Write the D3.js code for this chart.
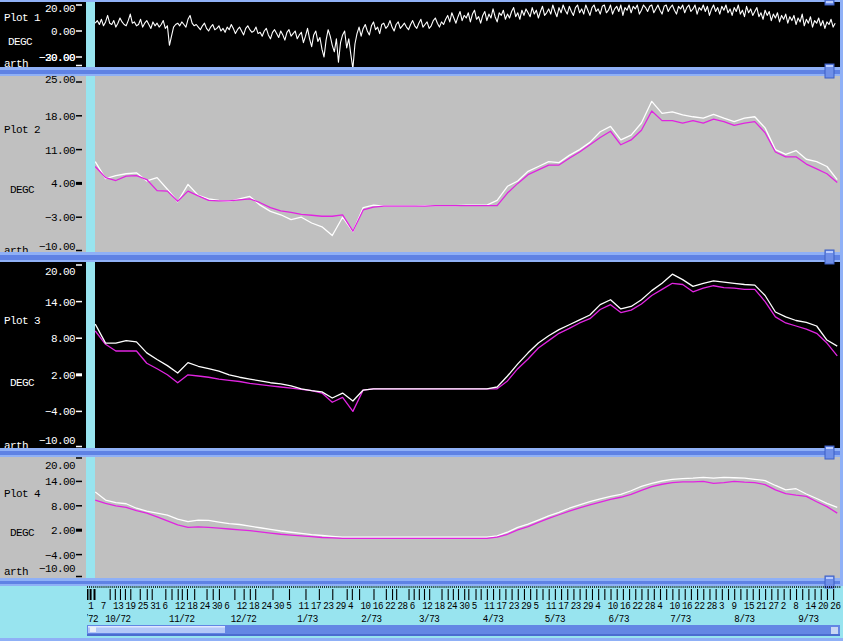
<!DOCTYPE html>
<html><head><meta charset="utf-8">
<script src="https://cdn.jsdelivr.net/npm/d3@7/dist/d3.min.js"></script>
<style>
html,body{margin:0;padding:0;background:#98e4ef;overflow:hidden}
svg{display:block}
text{font-family:"Liberation Mono","DejaVu Sans Mono",monospace;font-size:11px;letter-spacing:-0.6px}
</style></head><body>
<svg id="chart" width="843" height="641"></svg>
<script>
// ---------------- DATA ----------------
// smoothed series: one value every 5 days starting 5 Oct 1972 (day 4)
const gridStartDay = 4, gridStepDays = 5;
const p2White = [8.5,5.0,5.6,6.0,6.2,4.5,5.2,2.8,0.2,3.8,
 1.5,0.8,0.5,0.3,0.8,1.3,-0.5,-1.8,-2.5,-3.5,
 -3.0,-4.2,-5.0,-6.8,-3.0,-6.0,-1.0,-0.5,-0.7,-0.7,
 -0.7,-0.7,-0.6,-0.6,-0.6,-0.6,-0.5,-0.5,-0.5,0.5,
 3.4,4.5,6.5,7.5,8.5,8.3,9.8,11.0,12.5,14.7,
 15.8,13.0,14.0,16.5,21.0,18.5,18.8,18.2,17.8,17.5,
 18.3,17.5,16.8,17.5,17.8,15.5,11.0,10.0,10.8,9.0,
 8.5,7.5,4.8];
const p2Magenta = [7.5,5.2,4.6,5.5,5.6,4.8,2.5,2.4,0.3,2.4,
 1.4,0.5,0.4,0.4,0.6,0.8,0.0,-1.0,-1.7,-2.0,
 -2.4,-2.6,-2.8,-2.8,-2.5,-5.9,-1.5,-0.9,-0.7,-0.7,
 -0.7,-0.7,-0.7,-0.6,-0.6,-0.6,-0.6,-0.6,-0.6,-0.6,
 2.0,4.0,5.8,6.8,7.8,7.8,9.2,10.5,12.0,13.5,
 14.8,12.0,13.0,15.0,19.0,17.0,17.0,16.5,17.0,16.5,
 17.3,16.8,16.0,16.5,16.8,14.5,10.5,9.5,9.5,8.0,
 7.0,6.0,4.2];
const p3White = [10.3,7.2,7.2,7.6,7.4,5.6,4.5,3.5,2.3,4.0,
 3.4,3.0,2.6,2.0,1.6,1.3,1.0,0.7,0.5,0.2,
 -0.3,-0.6,-0.8,-1.8,-1.0,-2.3,-0.5,-0.3,-0.3,-0.3,
 -0.3,-0.3,-0.3,-0.3,-0.3,-0.3,-0.3,-0.3,-0.3,0.0,
 1.8,3.8,5.6,7.2,8.4,9.4,10.2,11.0,11.8,13.5,
 14.3,12.8,13.2,14.3,15.8,17.0,18.5,17.6,16.5,17.0,
 17.4,17.2,17.0,16.8,16.7,15.0,12.3,11.5,10.9,10.6,
 10.0,7.7,6.7];
const p3Magenta = [9.2,7.0,5.9,5.9,5.9,3.9,3.0,2.0,0.7,2.0,
 1.8,1.6,1.3,1.1,0.9,0.6,0.4,0.2,0.0,-0.2,
 -0.4,-0.6,-1.0,-2.5,-1.7,-4.0,-0.5,-0.3,-0.3,-0.3,
 -0.3,-0.3,-0.3,-0.3,-0.3,-0.3,-0.3,-0.3,-0.3,-0.3,
 1.0,3.0,4.6,6.4,7.6,8.8,9.6,10.5,11.2,12.7,
 13.5,12.2,12.6,13.6,15.0,16.0,17.0,16.8,15.6,16.2,
 16.6,16.3,16.2,16.0,16.0,14.0,11.5,10.5,10.0,9.5,
 8.8,7.2,5.1];
const p4White = [11.4,9.4,8.8,8.5,7.4,6.7,6.2,5.7,4.7,4.1,
 4.5,4.4,4.0,3.6,3.4,3.0,2.6,2.2,1.8,1.5,
 1.2,0.9,0.7,0.5,0.3,0.3,0.3,0.3,0.3,0.3,
 0.3,0.3,0.3,0.3,0.3,0.3,0.3,0.3,0.3,0.6,
 1.5,2.7,3.5,4.5,5.5,6.4,7.4,8.2,9.0,9.7,
 10.3,10.8,11.7,12.8,13.5,14.1,14.5,14.7,14.8,15.0,
 14.8,15.0,14.9,14.8,14.5,14.2,13.0,11.9,12.2,10.9,
 9.8,8.6,7.6];
const p4Magenta = [9.4,8.6,8.0,7.6,6.8,6.2,5.3,4.3,3.3,2.7,
 2.8,2.7,2.5,2.3,2.1,1.9,1.6,1.3,1.0,0.8,
 0.6,0.4,0.2,0.1,0.0,0.0,0.0,0.0,0.0,0.0,
 0.0,0.0,0.0,0.0,0.0,0.0,0.0,0.0,0.0,0.3,
 1.0,2.1,2.9,3.9,4.9,5.8,6.7,7.5,8.2,8.9,
 9.6,10.1,10.8,11.8,12.7,13.3,13.7,13.9,13.9,14.0,
 13.5,13.7,14.0,13.8,13.7,13.2,11.9,11.0,10.6,10.3,
 9.0,7.8,6.2];
// raw series (plot 1): one value per day starting day 4
const p1StartDay = 4, p1StepDays = 1;
const p1Raw = [
 6,8,5,9,4,7,12,6,5,8,     3,6,10,7,5,4,8,13,6,7,
 4,5,9,3,6,8,5,2,7,4,      6,3,5,8,2,4,-11,-4,3,5,
 6,4,7,5,3,9,12,6,4,5,     3,1,4,6,2,0,3,5,1,2,
 4,0,2,-1,3,1,5,2,-2,1,    3,0,-3,2,4,1,-1,0,3,-2,
 -1,-4,0,2,-3,-6,-1,1,-2,-5, 0,-3,-7,-1,1,-4,-2,0,-6,-3,
 -1,-9,-4,2,-6,-12,-3,0,-8,-5, -14,-20,-7,1,-4,-11,-16,-6,-24,-9,
 -3,0,-13,-6,-18,-29,-10,-2,3,-4, 2,5,0,-3,4,7,1,3,-2,5,
 6,2,4,8,3,0,5,7,2,4,      6,3,1,5,8,4,2,6,9,3,
 5,7,2,4,8,10,6,3,7,5,     9,12,7,14,10,6,11,15,8,12,
 10,14,7,13,16,9,11,6,12,15, 8,13,10,17,11,7,14,12,16,9,
 13,10,15,18,11,14,9,16,12,17, 14,11,18,13,16,10,15,19,12,14,
 17,13,20,15,11,18,14,20,16,13, 19,15,12,18,20,14,17,13,20,16,
 12,18,20,15,17,13,19,20,14,16, 20,13,17,19,15,20,12,18,16,20,
 14,19,17,20,13,16,20,18,15,19, 20,14,17,20,16,13,19,20,15,18,
 20,16,13,19,17,20,14,18,20,15, 17,20,13,18,16,20,15,19,12,17,
 20,15,18,13,19,16,20,14,17,12, 18,15,20,13,16,11,19,14,17,12,
 15,18,11,14,9,16,12,15,8,13,  10,14,7,12,9,13,6,11,8,12,
 5,10,7,13,4,9,6,11,3,8,       6,10,4,8,2,7,5,9,3,6];
// y tick labels
const yTicks1 = [20, 0, -20, -30];
const yTicks2 = [25, 18, 11, 4, -3, -10];
const yTicks3 = [20, 14, 8, 2, -4, -10];
const yTicks4 = [20, 14, 8, 2, -4, -10];
const panelNames = ["Plot 1", "Plot 2", "Plot 3", "Plot 4"];
const unitLabel = "DEGC";
const sourceLabel = "arth";
// x axis: day labels every 6 days from 1 Oct 1972, month labels, sample marks
const dayLabelStep = 6, dayLabelCount = 61;
const monthLabels = ["9/72","10/72","11/72","12/72","1/73","2/73","3/73","4/73","5/73","6/73","7/73","8/73","9/73"];
const sampleDays = [0,1.5,3.4,11,13.5,16,18.4,21,25.6,29,31.4,38,41,44,46,48.5,52,58,61,64,71.5,76,79,81.6,90,98,106,112.5,119,126,128.5,132,139,145,148,150,156,158.5,161,163.5,166,172,175,177.5,180,183,185,188.5,191,194,197,
 200,203,206,209,212,215,218,221,224,227,230,233,236,239,242,245,248,251,254,257,260,263,266,269,272,275,278,281,284,287,290,293,296,299,302,305,308,311,314,317,320,323,326,329,332,335,338,341,344,347,350,353,356,359,362];

// ---------------- LAYOUT ----------------
const W = 843, H = 641;
const CYAN = "#98e4ef", GRAY = "#c0c0c0", BL = "#8fb0f6", BD = "#5f82e4", MAG = "#e024e0";
const DAY0 = Date.UTC(1972, 9, 1);
const dayDate = d => new Date(DAY0 + d * 86400000);
const x = d3.scaleUtc().domain([dayDate(0), dayDate(360)]).range([87, 829]);
const plotL = 95, plotR = 840;

const svg = d3.select("#chart");
svg.append("rect").attr("width", W).attr("height", H).attr("fill", CYAN);
const defs = svg.append("defs");

const grid = arr => arr.map((v, i) => ({day: gridStartDay + i * gridStepDays, v}));

const panels = [
 {top:2, bottom:67, bg:"#000", fg:"#fff", domain:[-30,20], range:[70,5], ticks:yTicks1, thick:null,
  firstLY:9, lastLY:58, ly:{plot:18, unit:42, src:64}, unitX:8,
  series:[{data:p1Raw.map((v,i)=>({day:p1StartDay+i*p1StepDays, v})), color:"#fff"}]},
 {top:76, bottom:252, bg:GRAY, fg:"#000", domain:[-10,25], range:[251,82], ticks:yTicks2, thick:4,
  firstLY:80, lastLY:247, ly:{plot:130, unit:190, src:251}, unitX:10,
  series:[{data:grid(p2White), color:"#fff"},{data:grid(p2Magenta), color:MAG}]},
 {top:262, bottom:448, bg:"#000", fg:"#fff", domain:[-10,20], range:[448,265], ticks:yTicks3, thick:2,
  firstLY:272, lastLY:441, ly:{plot:321, unit:383, src:446}, unitX:10,
  series:[{data:grid(p3Magenta), color:MAG},{data:grid(p3White), color:"#fff"}]},
 {top:457, bottom:578, bg:GRAY, fg:"#000", domain:[-10,20], range:[579,457], ticks:yTicks4, thick:2,
  firstLY:466, lastLY:569, ly:{plot:494, unit:533, src:572}, unitX:10,
  series:[{data:grid(p4White), color:"#fff"},{data:grid(p4Magenta), color:MAG}]}
];

panels.forEach((p, k) => {
  const g = svg.append("g");
  g.append("rect").attr("x",0).attr("y",p.top).attr("width",W).attr("height",p.bottom-p.top).attr("fill",p.bg);
  g.append("rect").attr("x",86).attr("y",p.top).attr("width",9).attr("height",p.bottom-p.top).attr("fill",CYAN);
  const cid = "clipL"+k, cid2 = "clipP"+k;
  defs.append("clipPath").attr("id",cid).append("rect").attr("x",0).attr("y",p.top).attr("width",86).attr("height",p.bottom-p.top);
  defs.append("clipPath").attr("id",cid2).append("rect").attr("x",plotL).attr("y",p.top).attr("width",plotR-plotL).attr("height",p.bottom-p.top);
  const y = d3.scaleLinear().domain(p.domain).range(p.range);
  const lab = g.append("g").attr("clip-path",`url(#${cid})`).attr("fill",p.fg);
  lab.append("text").attr("x",4).attr("y",p.ly.plot).attr("dominant-baseline","central").text(panelNames[k]);
  lab.append("text").attr("x",p.unitX).attr("y",p.ly.unit).attr("dominant-baseline","central").text(unitLabel);
  lab.append("text").attr("x",4).attr("y",p.ly.src).attr("dominant-baseline","central").text(sourceLabel);
  const n = p.ticks.length;
  p.ticks.forEach((v, i) => {
    let ly = i === 0 ? p.firstLY : (i === n-1 ? p.lastLY : y(v) + 1);
    lab.append("text").attr("x",75).attr("y",ly).attr("text-anchor","end").attr("dominant-baseline","central").text(d3.format(".2f")(v));
    let ty = Math.max(p.top+1, Math.min(p.bottom-1.5, y(v)));
    const th = (v === p.thick) ? 3 : 1.5;
    lab.append("rect").attr("x",76).attr("y",ty - th/2).attr("width",6).attr("height",th).attr("fill",p.fg);
  });
  const line = d3.line().x(d => x(dayDate(d.day))).y(d => y(d.v));
  const pg = g.append("g").attr("clip-path",`url(#${cid2})`);
  p.series.forEach(s => {
    pg.append("path").attr("d", line(s.data)).attr("fill","none").attr("stroke", s.color)
      .attr("stroke-width", k === 0 ? 1.1 : 1.3).attr("stroke-linejoin","round");
  });
});

// separators / frame
function band(y0, y1) {
  svg.append("rect").attr("x",0).attr("y",y0).attr("width",W).attr("height",y1-y0).attr("fill",BL);
  if (y1 - y0 > 6) svg.append("rect").attr("x",0).attr("y",y0+3).attr("width",W).attr("height",y1-y0-5).attr("fill",BD);
}
svg.append("rect").attr("x",0).attr("y",0).attr("width",W).attr("height",2).attr("fill",BL);
band(67, 76); band(252, 262); band(448, 457); band(578, 586);
svg.append("rect").attr("x",0).attr("y",638).attr("width",W).attr("height",3).attr("fill",BL);
svg.append("rect").attr("x",840).attr("y",0).attr("width",3).attr("height",586).attr("fill",BL);
// handles
[[0,5],[64,78],[250,264],[446,459],[576,588]].forEach(([a,b]) => {
  svg.append("rect").attr("x",825).attr("y",a).attr("width",9).attr("height",b-a).attr("fill","#6f8fe8").attr("stroke","#3d5fc4").attr("stroke-width",1);
  svg.append("rect").attr("x",826).attr("y",a+1).attr("width",7).attr("height",2).attr("fill","#b9ccff");
});

// ---------------- X AXIS ----------------
const ax = svg.append("g");
defs.append("clipPath").attr("id","clipAx").append("rect").attr("x",87).attr("y",586).attr("width",754).attr("height",52);
const axc = ax.append("g").attr("clip-path","url(#clipAx)");
const labelStyle = s => s.attr("fill","#000").style("font-family",'"Liberation Mono",monospace')
  .style("font-size","11px").style("letter-spacing","-0.5px").attr("transform","scale(0.84,1)");
// daily minor marks
axc.append("g").attr("transform","translate(0,586)")
  .call(d3.axisBottom(x).tickValues(d3.range(0,366).map(dayDate)).tickSize(2).tickFormat(""))
  .call(g => g.select(".domain").remove())
  .call(g => g.selectAll("line").attr("stroke","#000").attr("stroke-width",0.8));
// sample marks
axc.append("g").attr("transform","translate(0,589)")
  .call(d3.axisBottom(x).tickValues(sampleDays.map(dayDate)).tickSize(11).tickFormat(""))
  .call(g => g.select(".domain").remove())
  .call(g => g.selectAll("line").attr("stroke","#000").attr("stroke-width",(d,i)=> i<3 ? 2 : 1.1));
// day-of-month labels
const dayLabelDates = d3.range(dayLabelCount).map(i => dayDate(i * dayLabelStep));
axc.append("g").attr("transform","translate(0,600.5)")
  .call(d3.axisBottom(x).tickValues(dayLabelDates).tickSize(0).tickPadding(0).tickFormat(d => d.getUTCDate()))
  .call(g => g.select(".domain").remove())
  .call(g => g.selectAll("text").attr("text-anchor","start").attr("x",1).attr("y",0).attr("dy","0.75em").call(labelStyle));
// month labels (centered on mid-month, clamped to the left edge)
const monthDates = monthLabels.map((m, i) => new Date(Date.UTC(1972, 8 + i, 16)));
axc.append("g").attr("transform","translate(0,613.5)")
  .call(d3.axisBottom(x).tickValues(monthDates).tickSize(0).tickPadding(0).tickFormat((d,i) => monthLabels[i]))
  .call(g => g.select(".domain").remove())
  .call(g => g.selectAll(".tick").attr("transform", d => `translate(${Math.max(x(d), 88)},0)`))
  .call(g => g.selectAll("text").attr("y",0).attr("dy","0.75em").call(labelStyle));
// scrollbar
ax.append("rect").attr("x",87).attr("y",625).attr("width",753).attr("height",11).attr("fill","#6386e4");
ax.append("rect").attr("x",87).attr("y",634).attr("width",753).attr("height",2).attr("fill","#4a6cd0");
ax.append("rect").attr("x",88).attr("y",626).attr("width",137).attr("height",7).attr("fill","#b3c8f8");
ax.append("rect").attr("x",88).attr("y",626).attr("width",137).attr("height",1.5).attr("fill","#dfe8ff");
ax.append("rect").attr("x",90).attr("y",627).attr("width",6).attr("height",5).attr("fill","#e8eef8");
ax.append("rect").attr("x",831).attr("y",627).attr("width",7).attr("height",7).attr("fill","#c8d6f4");
</script>
</body></html>
